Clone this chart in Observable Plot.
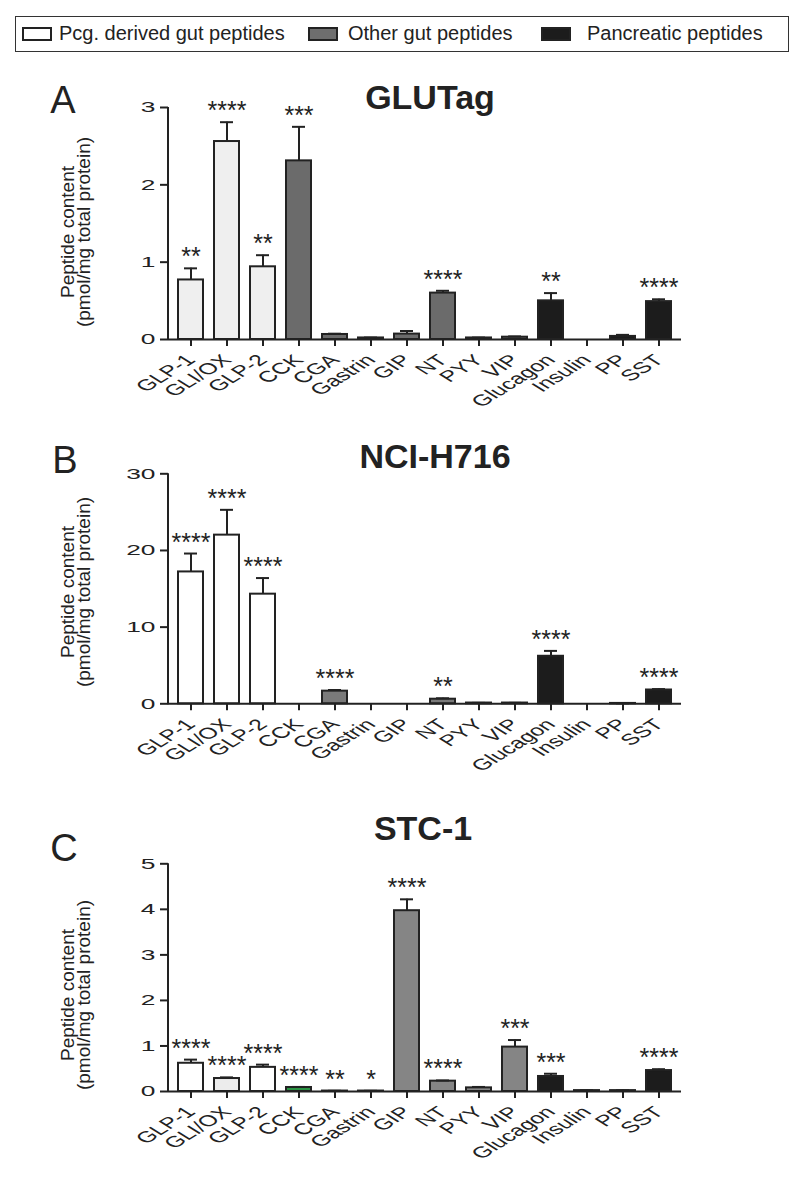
<!DOCTYPE html>
<html><head><meta charset="utf-8">
<script src="https://cdn.jsdelivr.net/npm/d3@7"></script>
<script src="https://cdn.jsdelivr.net/npm/@observablehq/plot@0.6"></script>
<style>
body{margin:0;background:#fff;font-family:"Liberation Sans",Arial,sans-serif;}
#root{position:relative;width:800px;height:1177px;overflow:hidden;background:#fff;}
.legend{position:absolute;left:15px;top:16px;width:774px;height:36px;border:1.5px solid #333;box-sizing:border-box;background:#fff;}
.legend .sw{position:absolute;top:10px;width:30px;height:14px;box-sizing:border-box;border:2px solid #222;}
.legend .lb{position:absolute;top:4px;font-size:20px;line-height:24px;color:#222;white-space:nowrap;}
svg.panel{position:absolute;left:0;}
</style></head><body><div id="root"></div>
<script>
// ---- data ----
const categories = ["GLP-1","GLI/OX","GLP-2","CCK","CGA","Gastrin","GIP","NT","PYY","VIP","Glucagon","Insulin","PP","SST"];
const groups = ["Pcg","Pcg","Pcg","Other","Other","Other","Other","Other","Other","Other","Pancreatic","Pancreatic","Pancreatic","Pancreatic"];
const legendLabels = ["Pcg. derived gut peptides","Other gut peptides","Pancreatic peptides"];
const panelLetters = ["A","B","C"];
const panelTitles = ["GLUTag","NCI-H716","STC-1"];
const yAxisLabel = ["Peptide content","(pmol/mg total protein)"];

const glutagMean  = [0.77, 2.56, 0.94, 2.31, 0.065, 0.02, 0.07, 0.60, 0.02, 0.03, 0.50, 0, 0.04, 0.49];
const glutagSem   = [0.15, 0.25, 0.15, 0.44, 0.01, 0.005, 0.04, 0.03, 0.005, 0.01, 0.10, 0, 0.02, 0.03];
const glutagStars = ["**","****","**","***","","","","****","","","**","","","****"];
const glutagTicks = [0,1,2,3];

const nciMean  = [17.2, 22.0, 14.3, 0, 1.65, 0, 0, 0.6, 0.1, 0.1, 6.2, 0, 0.05, 1.8];
const nciSem   = [2.4, 3.3, 2.1, 0, 0.15, 0, 0, 0.12, 0.02, 0.02, 0.7, 0, 0.01, 0.12];
const nciStars = ["****","****","****","","****","","","**","","","****","","","****"];
const nciTicks = [0,10,20,30];

const stcMean  = [0.62, 0.285, 0.53, 0.088, 0.01, 0.01, 3.97, 0.227, 0.08, 0.975, 0.33, 0.02, 0.02, 0.46];
const stcSem   = [0.08, 0.025, 0.06, 0.012, 0.005, 0.005, 0.25, 0.015, 0.02, 0.155, 0.06, 0.005, 0.005, 0.03];
const stcStars = ["****","****","****","****","**","*","****","****","","***","***","","","****"];
const stcTicks = [0,1,2,3,4,5];

// ---- styles ----
const INK = "#222";
const FONT = "Liberation Sans, Arial, sans-serif";
const palettes = [
  {Pcg: "#efefef", Other: "#6b6b6b", Pancreatic: "#1c1c1c", special: {}},
  {Pcg: "#ffffff", Other: "#7a7a7a", Pancreatic: "#1c1c1c", special: {}},
  {Pcg: "#ffffff", Other: "#858585", Pancreatic: "#1c1c1c", special: {"GLI/OX": "#ececec", "CCK": "#2a9444"}}
];
const legendFills = ["#ffffff", "#6e6e6e", "#1c1c1c"];

const root = document.getElementById("root");

// legend
const legend = document.createElement("div");
legend.className = "legend";
const swX = [6, 292, 525], lbX = [43, 332, 571];
legendLabels.forEach((t, i) => {
  const sw = document.createElement("div");
  sw.className = "sw"; sw.style.left = swX[i] + "px"; sw.style.background = legendFills[i];
  const lb = document.createElement("div");
  lb.className = "lb"; lb.style.left = lbX[i] + "px"; lb.textContent = t;
  legend.appendChild(sw); legend.appendChild(lb);
});
root.appendChild(legend);

function stretchTexts(svg, selector, sx) {
  d3.select(svg).selectAll(selector).each(function () {
    const t = this.getAttribute("transform") || "";
    const m = /translate\(\s*([-\d.e]+)[\s,]+([-\d.e]+)\s*\)/.exec(t);
    const ax = m ? +m[1] : parseFloat(this.getAttribute("x") || 0);
    const ay = m ? +m[2] : parseFloat(this.getAttribute("y") || 0);
    this.setAttribute("transform", `translate(${ax},${ay}) scale(${sx},1) translate(${-ax},${-ay}) ${t}`);
  });
}

function panel(cfg) {
  const {mean, sem, stars, ticks, top, height, mt, mb, pal, title, letter, titleX, titleBase, letterX, letterBase, labelCy} = cfg;
  const yMax = ticks[ticks.length - 1];
  const rows = categories.map((c, i) => ({cat: c, group: groups[i], mean: mean[i], sem: sem[i], top: mean[i] + sem[i], stars: stars[i]}));
  const fillOf = d => pal.special[d.cat] || pal[d.group];
  const withErr = rows.filter(d => d.sem > 0);
  const svg = Plot.plot({
    width: 800, height,
    marginLeft: 168, marginRight: 119, marginTop: mt, marginBottom: mb,
    style: {fontFamily: FONT, color: INK, background: "transparent", overflow: "visible"},
    x: {domain: categories, paddingInner: 0.3, paddingOuter: 0.2, label: null},
    y: {domain: [0, yMax], label: null},
    color: {type: "identity"},
    marks: [
      Plot.barY(rows, {x: "cat", y: "mean", fill: fillOf, stroke: INK, strokeWidth: 2}),
      Plot.ruleX(withErr, {x: "cat", y1: "mean", y2: "top", stroke: INK, strokeWidth: 2}),
      Plot.tickY(withErr, {x: "cat", y: "top", stroke: INK, strokeWidth: 2, insetLeft: 6, insetRight: 6}),
      Plot.ruleY([0], {stroke: INK, strokeWidth: 2}),
      (index, scales, values, dims) => {
        const l = document.createElementNS("http://www.w3.org/2000/svg", "line");
        l.setAttribute("x1", dims.marginLeft); l.setAttribute("x2", dims.marginLeft);
        l.setAttribute("y1", scales.y(yMax)); l.setAttribute("y2", scales.y(0) + 1);
        l.setAttribute("stroke", INK); l.setAttribute("stroke-width", 2);
        return l;
      },
      Plot.axisY({ticks, tickSize: 8, tickPadding: 5, fontSize: 15.5, stroke: INK, strokeWidth: 2, label: null, tickFormat: d => String(d)}),
      Plot.axisX({tickRotate: -45, tickSize: 7, tickPadding: 11, fontSize: 15.5, stroke: INK, strokeWidth: 2, label: null}),
      Plot.text(rows.filter(d => d.stars), {x: "cat", y: "top", text: "stars", lineAnchor: "bottom", dy: -3, fontSize: 25, fill: INK})
    ]
  });
  svg.classList.add("panel");
  svg.style.top = top + "px";
  svg.style.position = "absolute";
  stretchTexts(svg, 'g[aria-label="x-axis tick label"] text', 1.6);
  stretchTexts(svg, 'g[aria-label="y-axis tick label"] text', 1.7);
  const s = d3.select(svg);
  s.append("text").attr("x", titleX).attr("y", titleBase - top).attr("text-anchor", "middle")
    .attr("font-size", 34).attr("font-weight", "bold").attr("fill", INK).attr("font-family", FONT).text(title);
  s.append("text").attr("x", letterX).attr("y", letterBase - top).attr("text-anchor", "middle")
    .attr("font-size", 38).attr("fill", INK).attr("font-family", FONT).text(letter);
  [74, 90].forEach((bx, i) => {
    s.append("text").attr("transform", `translate(${bx},${labelCy - top}) rotate(-90)`)
      .attr("text-anchor", "middle").attr("font-size", 19).attr("fill", INK).attr("font-family", FONT)
      .text(yAxisLabel[i]);
  });
  root.appendChild(svg);
}

panel({mean: glutagMean, sem: glutagSem, stars: glutagStars, ticks: glutagTicks, top: 60, height: 370, mt: 47, mb: 91,
  pal: palettes[0], title: panelTitles[0], letter: panelLetters[0], titleX: 430, titleBase: 109, letterX: 63, letterBase: 113, labelCy: 232});
panel({mean: nciMean, sem: nciSem, stars: nciStars, ticks: nciTicks, top: 430, height: 370, mt: 43.3, mb: 96.7,
  pal: palettes[1], title: panelTitles[1], letter: panelLetters[1], titleX: 435, titleBase: 468, letterX: 65, letterBase: 473, labelCy: 592});
panel({mean: stcMean, sem: stcSem, stars: stcStars, ticks: stcTicks, top: 800, height: 377, mt: 63.3, mb: 86,
  pal: palettes[2], title: panelTitles[2], letter: panelLetters[2], titleX: 423, titleBase: 840, letterX: 64, letterBase: 861, labelCy: 995});
</script>
</body></html>
